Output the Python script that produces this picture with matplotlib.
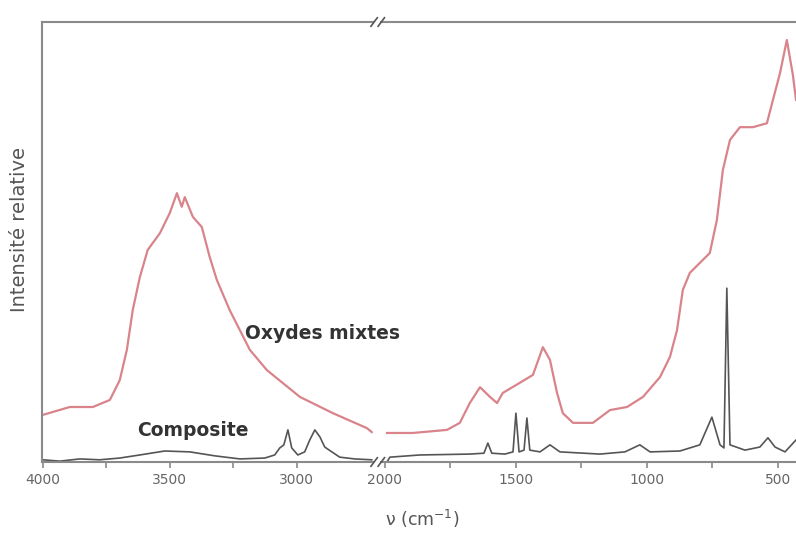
import numpy as np
import matplotlib
matplotlib.use("Agg")
import matplotlib.pyplot as plt

# wavenumbers (cm-1) and relative intensity (0-100)
# Oxydes mixtes, high wavenumber part
ox_wn_hi = [4000, 3894, 3803, 3736, 3697, 3669, 3646, 3618, 3587, 3539, 3500, 3472, 3453,
            3441, 3409, 3374, 3343, 3315, 3264, 3185, 3118, 2988, 2858, 2724, 2705]
ox_int_hi = [10.7, 12.5, 12.5, 14.1, 18.6, 25.5, 34.5, 42.0, 48.2, 52.0, 56.6, 61.1, 58.0,
             60.2, 55.7, 53.4, 46.6, 41.4, 34.5, 25.5, 20.9, 14.8, 11.1, 7.7, 6.8]
# Oxydes mixtes, low wavenumber part
ox_wn_lo = [1992, 1893, 1763, 1714, 1676, 1637, 1599, 1572, 1550, 1485, 1435, 1397, 1370,
            1343, 1321, 1282, 1206, 1141, 1076, 1015, 950, 912, 885, 863, 836, 760, 733,
            710, 683, 645, 595, 542, 519, 492, 466, 443, 431]
ox_int_lo = [6.6, 6.6, 7.3, 8.9, 13.4, 17.0, 14.8, 13.4, 15.7, 18.0, 19.8, 26.1, 23.2,
             15.7, 11.1, 8.9, 8.9, 11.8, 12.5, 14.8, 19.3, 23.9, 30.0, 39.1, 43.0, 47.5, 55.0,
             66.4, 73.2, 76.1, 76.1, 77.0, 82.3, 88.4, 95.9, 88.0, 82.3]

# Composite
co_wn_hi = [4000, 3933, 3854, 3776, 3697, 3618, 3520, 3421, 3323, 3224, 3126, 3087, 3067,
            3051, 3035, 3020, 2996, 2969, 2949, 2929, 2909, 2890, 2862, 2831, 2772, 2705]
co_int_hi = [0.5, 0.2, 0.7, 0.5, 0.9, 1.6, 2.5, 2.3, 1.4, 0.7, 0.9, 1.6, 3.2,
             3.9, 7.3, 3.2, 1.6, 2.3, 5.0, 7.3, 5.7, 3.4, 2.3, 1.1, 0.7, 0.5]
co_wn_lo = [1992, 1981, 1866, 1676, 1622, 1607, 1592, 1542, 1511, 1500, 1488, 1469, 1458,
            1447, 1408, 1370, 1332, 1179, 1084, 1027, 988, 874, 798, 752, 721, 706, 695,
            683, 626, 569, 538, 511, 473, 431]
co_int_lo = [0.0, 1.1, 1.6, 1.8, 2.0, 4.3, 2.0, 1.8, 2.3, 11.1, 2.3, 2.7, 10.0,
             2.7, 2.3, 3.9, 2.3, 1.8, 2.3, 3.9, 2.3, 2.5, 3.9, 10.2, 3.9, 3.2, 39.5,
             3.9, 2.7, 3.4, 5.5, 3.4, 2.3, 5.0]

red = "#d9838a"
dark = "#555555"
spine_col = "#8a8a8a"

fig = plt.figure(figsize=(7.96, 5.33), dpi=100)
ax1 = fig.add_axes([0.0528, 0.1332, 0.4158, 0.8255])
ax2 = fig.add_axes([0.4786, 0.1332, 0.5214, 0.8255])

ax1.plot(ox_wn_hi, ox_int_hi, color=red, lw=1.6)
ax1.plot(co_wn_hi, co_int_hi, color=dark, lw=1.2)
ax2.plot(ox_wn_lo, ox_int_lo, color=red, lw=1.6)
ax2.plot(co_wn_lo, co_int_lo, color=dark, lw=1.2)

ax1.set_xlim(4003, 2700)
ax2.set_xlim(2015, 431)
for ax in (ax1, ax2):
    ax.set_ylim(0, 100)
    ax.set_yticks([])
    ax.spines["right"].set_visible(False)
    for s in ("top", "bottom", "left"):
        ax.spines[s].set_color(spine_col)
        ax.spines[s].set_linewidth(1.5)
    ax.tick_params(axis="x", which="both", direction="out", length=4, width=1.2,
                   color=spine_col, labelsize=10, labelcolor="#666666", pad=4)
ax2.spines["left"].set_visible(False)

ax1.set_xticks([4000, 3500, 3000])
ax1.set_xticks([3750, 3250], minor=True)
ax2.set_xticks([2000, 1500, 1000, 500])
ax2.set_xticks([1750, 1250, 750], minor=True)

# break marks
for y in (0, 1):
    for dx in (0.0, 0.009):
        fig.add_artist(plt.Line2D([0.466 + dx, 0.474 + dx],
                                  [0.1332 + 0.8255 * y - 0.008, 0.1332 + 0.8255 * y + 0.008],
                                  color="#555555", lw=1.2))

fig.text(0.308, 0.375, "Oxydes mixtes", fontsize=13.5, fontweight="bold", color="#333333",
         ha="left", va="center")
fig.text(0.172, 0.193, "Composite", fontsize=13.5, fontweight="bold", color="#333333",
         ha="left", va="center")
fig.text(0.025, 0.57, "Intensité relative", rotation=90, fontsize=14, color="#555555",
         ha="center", va="center")
fig.text(0.53, 0.005, "ν (cm$^{-1}$)", fontsize=12.5, color="#555555", ha="center", va="bottom")

fig.savefig("out.png", dpi=100)
